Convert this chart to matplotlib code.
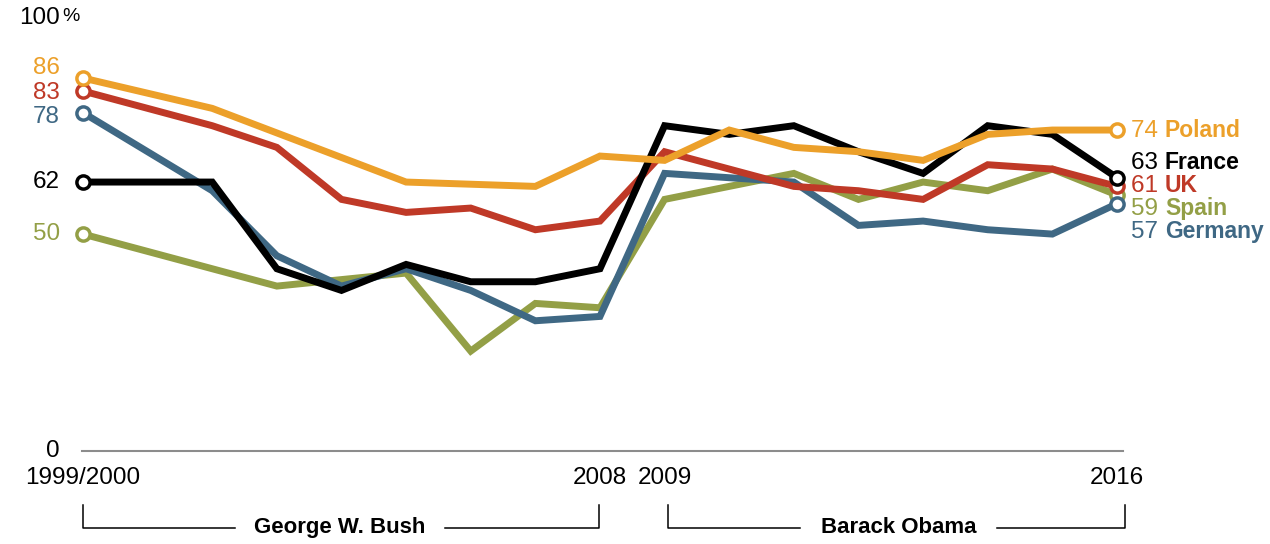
import numpy as np
import matplotlib
matplotlib.use("Agg")
import matplotlib.pyplot as plt

# ---------------- data ----------------
years = [2000, 2002, 2003, 2004, 2005, 2006, 2007, 2008,
         2009, 2010, 2011, 2012, 2013, 2014, 2015, 2016]

# None = not surveyed that year
france  = [62, 62, 42, 37, 43, 39, 39, 42, 75, 73, 75, 69, 64, 75, 73, 63]
germany = [78, 60, 45, 38, 42, 37, 30, 31, 64, 63, 62, 52, 53, 51, 50, 57]
uk      = [83, 75, 70, 58, 55, 56, 51, 53, 69, 65, 61, 60, 58, 66, 65, 61]
poland  = [86, 79, None, None, 62, None, 61, 68, 67, 74, 70, 69, 67, 73, 74, 74]
spain   = [50, None, 38, None, 41, 23, 34, 33, 58, 61, 64, 58, 62, 60, 65, 59]

countries = ["Poland", "France", "UK", "Spain", "Germany"]
series = {"Poland": poland, "France": france, "UK": uk, "Spain": spain, "Germany": germany}
colors = {"Poland": "#ECA02A", "France": "#000000", "UK": "#BF3927",
          "Spain": "#939F46", "Germany": "#3F6884"}

x_tick_years = [2000, 2008, 2009, 2016]
x_tick_labels = ["1999/2000", "2008", "2009", "2016"]

# ---------------- figure ----------------
num_font = ["Liberation Sans", "DejaVu Sans"]
name_font = ["Liberation Sans", "DejaVu Sans"]
NUM_SIZE = 17.5

fig = plt.figure(figsize=(12.7, 5.44), dpi=100)
ax = fig.add_axes([0, 0, 1, 1])
ax.set_xlim(1998.716, 2018.368)
ax.set_ylim(-21.5, 104.0)
ax.axis("off")

# baseline
ax.plot([1999.98, 2016.1], [0, 0], color="#8c8c8c", lw=1.5, zorder=1)

# lines (drawn back to front)
draw_order = ["Spain", "Germany", "UK", "France", "Poland"]
for name in draw_order:
    vals = series[name]
    xs = [y for y, v in zip(years, vals) if v is not None]
    vs = [v for v in vals if v is not None]
    c = colors[name]
    ax.plot(xs, vs, color=c, lw=5, solid_joinstyle="miter", zorder=3)
    ax.plot([xs[0], xs[-1]], [vs[0], vs[-1]], ls="none", marker="o", ms=9.5,
            mfc="white", mec=c, mew=2.5, zorder=4)

# left start labels (nudged apart where they crowd)
start_pos = {"Poland": 88.2, "France": 62, "UK": 82.6, "Spain": 50, "Germany": 77.0}
for name in countries:
    v = series[name][0]
    ax.text(1999.64, start_pos[name], str(v), color=colors[name],
            ha="right", va="center", fontsize=NUM_SIZE, family=num_font)

# right end labels
end_pos = {"Poland": 73.8, "France": 66.4, "UK": 61.1, "Spain": 55.8, "Germany": 50.5}
for name in countries:
    v = series[name][-1]
    c = colors[name]
    t = ax.text(2016.22, end_pos[name], str(v) + " ", color=c, ha="left",
                va="center", fontsize=NUM_SIZE, family=num_font)
    ax.annotate(name, xycoords=t, xy=(1, 0.5), va="center", ha="left",
                color=c, fontsize=16.5, fontweight="bold", family=name_font)

# y labels
ax.text(1999.64, 99.8, "100", ha="right", va="center", fontsize=NUM_SIZE, family=num_font)
ax.text(1999.68, 100.1, "%", ha="left", va="center", fontsize=14, family=num_font)
ax.text(1999.64, 0, "0", ha="right", va="center", fontsize=NUM_SIZE, family=num_font)

# x labels
for yr, lab in zip(x_tick_years, x_tick_labels):
    ax.text(yr, -6.3, lab, ha="center", va="center", fontsize=17.5, family=num_font)

# president brackets
yb, yt = -17.8, -12.6
def bracket(x0, x1, gap0, gap1, label):
    kw = dict(color="black", lw=1.1, clip_on=False, zorder=2)
    ax.plot([x0, x0, gap0], [yt, yb, yb], **kw)
    ax.plot([gap1, x1, x1], [yb, yb, yt], **kw)
    ax.text((gap0 + gap1) / 2, yb, label, ha="center", va="center",
            fontsize=16, fontweight="bold", family=name_font)

bracket(2000, 2007.98, 2002.35, 2005.6, "George W. Bush")
bracket(2009.05, 2016.13, 2011.1, 2014.15, "Barack Obama")

fig.savefig("out.png", dpi=100)
